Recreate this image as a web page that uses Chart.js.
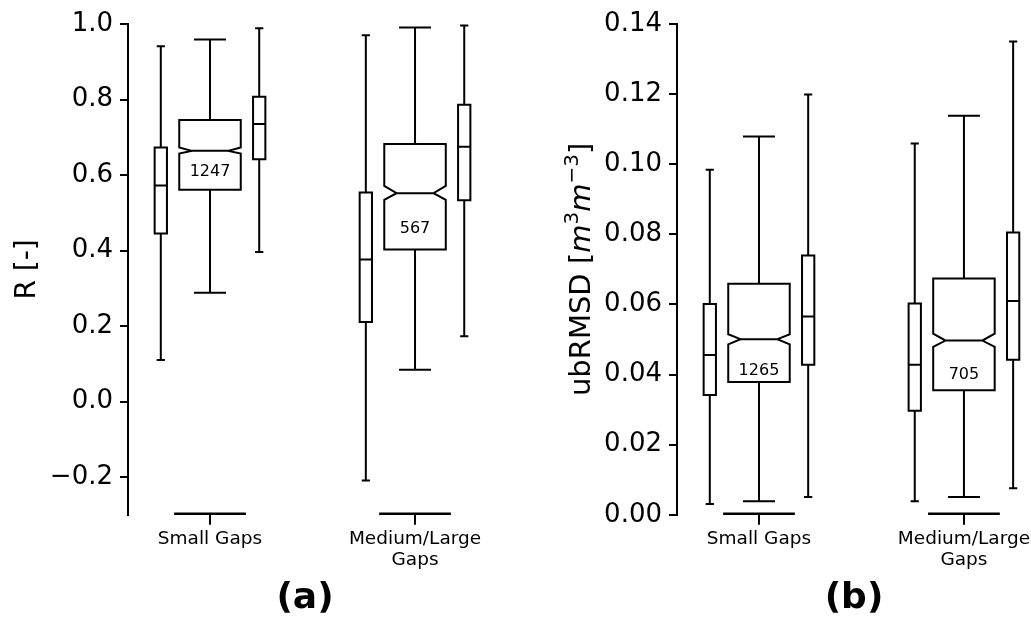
<!DOCTYPE html>
<html>
<head>
<meta charset="utf-8">
<script src="https://cdn.jsdelivr.net/npm/chart.js@4/dist/chart.umd.min.js"></script>
<style>
  body { margin: 0; background: #fff; }
  #wrap { position: relative; width: 1031px; height: 620px; overflow: hidden; background: #fff; }
  canvas { position: absolute; top: 0; }
</style>
</head>
<body>
<div id="wrap">
  <canvas id="chartA" width="610" height="620" style="left:0px;width:610px;height:620px"></canvas>
  <canvas id="chartB" width="588" height="620" style="left:560px;width:588px;height:620px"></canvas>
</div>
<script>
// categories on the x axis (second one wraps onto two lines)
const categories = [["Small Gaps"], ["Medium/Large", "Gaps"]];

// each category has three boxes: left (narrow), centre (notched), right (narrow)
// order: [gap0-left, gap0-centre, gap0-right, gap1-left, gap1-centre, gap1-right]

// (a) R [-]
const rMin = [0.11, 0.288, 0.396, -0.209, 0.084, 0.173];
const rQ1 = [0.445, 0.561, 0.642, 0.211, 0.403, 0.533];
const rMed = [0.572, 0.664, 0.735, 0.376, 0.552, 0.675];
const rQ3 = [0.673, 0.746, 0.807, 0.554, 0.682, 0.786];
const rMax = [0.941, 0.959, 0.989, 0.970, 0.991, 0.996];
// notches only on the centre boxes
const rNotchLo = [0.657, 0.534];
const rNotchHi = [0.673, 0.571];
const rCounts = ["1247", "567"];
const rCountY = [0.609, 0.457];
const rTicks = [-0.2, 0.0, 0.2, 0.4, 0.6, 0.8, 1.0];

// (b) ubRMSD [m3 m-3]
const uMin = [0.0031, 0.0039, 0.0051, 0.0039, 0.0051, 0.0076];
const uQ1 = [0.0342, 0.0379, 0.0428, 0.0297, 0.0355, 0.0442];
const uMed = [0.0456, 0.0501, 0.0566, 0.0428, 0.0497, 0.0610];
const uQ3 = [0.0601, 0.0659, 0.0740, 0.0603, 0.0674, 0.0805];
const uMax = [0.0984, 0.1079, 0.1199, 0.1059, 0.1138, 0.1350];
const uNotchLo = [0.0486, 0.0479];
const uNotchHi = [0.0515, 0.0517];
const uCounts = ["1265", "705"];
const uCountY = [0.0411, 0.0398];
const uTicks = [0.00, 0.02, 0.04, 0.06, 0.08, 0.10, 0.12, 0.14];

const FONT = "DejaVu Sans";

function boxPlugin(panel) {
  return {
    id: "boxes",
    afterDatasetsDraw(chart) {
      const { ctx } = chart;
      const xs = chart.scales.x;
      const ys = chart.scales.y;
      const px = (v) => xs.getPixelForValue(v);
      const py = (v) => ys.getPixelForValue(v);
      const offsets = [-0.24, 0, 0.24];

      ctx.save();
      ctx.strokeStyle = "#000";
      ctx.fillStyle = "#000";
      ctx.lineWidth = 2;
      ctx.lineJoin = "miter";

      for (let i = 0; i < panel.min.length; i++) {
        const cat = Math.floor(i / 3);
        const k = i % 3;
        const xc = cat + offsets[k];
        const wide = k === 1;
        const hw = wide ? 0.15 : 0.03;
        const cw = wide ? 0.078 : 0.02;
        const L = px(xc - hw), R = px(xc + hw), C = px(xc);
        const q1 = py(panel.q1[i]), q3 = py(panel.q3[i]), med = py(panel.med[i]);

        // whiskers + caps
        ctx.beginPath();
        ctx.moveTo(C, q3); ctx.lineTo(C, py(panel.max[i]));
        ctx.moveTo(C, q1); ctx.lineTo(C, py(panel.min[i]));
        ctx.moveTo(px(xc - cw), py(panel.max[i])); ctx.lineTo(px(xc + cw), py(panel.max[i]));
        ctx.moveTo(px(xc - cw), py(panel.min[i])); ctx.lineTo(px(xc + cw), py(panel.min[i]));
        ctx.stroke();

        ctx.beginPath();
        if (wide) {
          const nl = py(panel.notchLo[cat]), nh = py(panel.notchHi[cat]);
          const inset = (R - L) * 0.2;
          ctx.moveTo(L, q1);
          ctx.lineTo(R, q1);
          ctx.lineTo(R, nl);
          ctx.lineTo(R - inset, med);
          ctx.lineTo(R, nh);
          ctx.lineTo(R, q3);
          ctx.lineTo(L, q3);
          ctx.lineTo(L, nh);
          ctx.lineTo(L + inset, med);
          ctx.lineTo(L, nl);
          ctx.closePath();
          ctx.moveTo(L + inset, med); ctx.lineTo(R - inset, med);
        } else {
          ctx.rect(L, q3, R - L, q1 - q3);
          ctx.moveTo(L, med); ctx.lineTo(R, med);
        }
        ctx.stroke();
      }

      // sample counts inside the centre boxes
      ctx.font = "16px " + FONT;
      ctx.textAlign = "center";
      ctx.textBaseline = "middle";
      panel.counts.forEach((c, j) => ctx.fillText(c, px(j), py(panel.countY[j])));

      // short base line under each category
      ctx.lineWidth = 2.5;
      ctx.beginPath();
      categories.forEach((_, j) => {
        ctx.moveTo(px(j - 0.175), ys.bottom - 1);
        ctx.lineTo(px(j + 0.175), ys.bottom - 1);
      });
      ctx.stroke();

      // y label (rich text, rotated)
      const segs = panel.ylabel;
      let total = 0;
      segs.forEach((s) => { ctx.font = s.font; total += ctx.measureText(s.t).width; });
      const cy = (chart.chartArea.top + chart.chartArea.bottom) / 2;
      ctx.translate(panel.ylabelX, cy);
      ctx.rotate(-Math.PI / 2);
      ctx.textAlign = "left";
      ctx.textBaseline = "alphabetic";
      let xpos = -total / 2;
      segs.forEach((s) => {
        ctx.font = s.font;
        ctx.fillText(s.t, xpos, -(s.rise || 0));
        xpos += ctx.measureText(s.t).width;
      });
      ctx.restore();
    }
  };
}

function makeChart(id, panel) {
  return new Chart(document.getElementById(id), {
    type: "scatter",
    data: { datasets: [] },
    plugins: [boxPlugin(panel)],
    options: {
      responsive: false,
      animation: false,
      devicePixelRatio: 1,
      layout: { padding: { top: 24, right: 0, left: 0, bottom: 0 } },
      plugins: {
        legend: { display: false },
        tooltip: { enabled: false },
        title: {
          display: true,
          text: panel.title,
          position: "bottom",
          color: "#000",
          padding: 0,
          font: { family: FONT, size: 36, weight: "bold", lineHeight: 1.2 }
        }
      },
      scales: {
        x: {
          type: "linear",
          min: -0.4,
          max: panel.xMax,
          afterFit: (s) => { s.height = 62; },
          afterBuildTicks: (s) => { s.ticks = categories.map((_, j) => ({ value: j })); },
          border: { display: false },
          grid: { display: true, drawOnChartArea: false, drawTicks: true, tickLength: 10, color: "#000", lineWidth: 2 },
          ticks: {
            autoSkip: false,
            maxRotation: 0,
            padding: 4,
            color: "#000",
            font: { family: FONT, size: 18.5, lineHeight: 1.12 },
            callback: (v) => categories[v]
          }
        },
        y: {
          type: "linear",
          min: panel.yMin,
          max: panel.yMax,
          afterFit: (s) => { s.width = panel.yWidth; },
          afterBuildTicks: (s) => { s.ticks = panel.ticks.map((v) => ({ value: v })); },
          border: { display: true, color: "#000", width: 2 },
          grid: { display: true, drawOnChartArea: false, drawTicks: true, tickLength: 8, color: "#000", lineWidth: 2 },
          ticks: {
            padding: 7,
            color: "#000",
            font: { family: FONT, size: 26 },
            callback: (v) => v.toFixed(panel.decimals).replace("-", "\u2212")
          }
        }
      }
    }
  });
}

const normal = "28px " + FONT;
const italic = "italic 29px " + FONT;
const small = "20px " + FONT;

makeChart("chartA", {
  min: rMin, q1: rQ1, med: rMed, q3: rQ3, max: rMax,
  notchLo: rNotchLo, notchHi: rNotchHi, counts: rCounts, countY: rCountY,
  ticks: rTicks, yMin: -0.3, yMax: 1.0, decimals: 1,
  yWidth: 128, xMax: 1.951, title: "(a)",
  ylabelX: 35,
  ylabel: [{ t: "R [-]", font: normal }]
});

makeChart("chartB", {
  min: uMin, q1: uQ1, med: uMed, q3: uQ3, max: uMax,
  notchLo: uNotchLo, notchHi: uNotchHi, counts: uCounts, countY: uCountY,
  ticks: uTicks, yMin: 0, yMax: 0.14, decimals: 2,
  yWidth: 117, xMax: 1.898, title: "(b)",
  ylabelX: 30,
  ylabel: [
    { t: "ubRMSD [", font: "29px " + FONT },
    { t: "m", font: italic },
    { t: "3", font: small, rise: 12 },
    { t: "m", font: italic },
    { t: "\u22123", font: small, rise: 12 },
    { t: "]", font: "29px " + FONT }
  ]
});
</script>
</body>
</html>
